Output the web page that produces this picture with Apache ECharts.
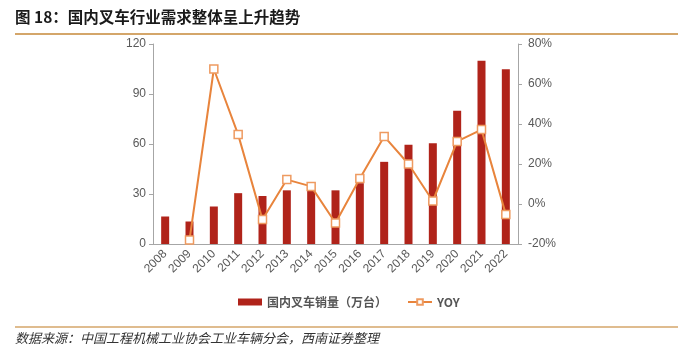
<!DOCTYPE html>
<html><head><meta charset="utf-8">
<script src="https://cdn.jsdelivr.net/npm/echarts@6/dist/echarts.min.js"></script>
<style>html,body{margin:0;padding:0;background:#fff}#c{width:686px;height:359px}</style>
</head><body><div id="c"></div>
<script>
const years = ['2008','2009','2010','2011','2012','2013','2014','2015','2016','2017','2018','2019','2020','2021','2022'];
const sales = [16.5, 13.5, 22.5, 30.5, 28.8, 32.2, 32.5, 32.2, 36.5, 49.3, 59.5, 60.5, 80, 110, 104.8];
const yoy = [null, -18, 67.5, 34.7, -7.8, 12.2, 8.8, -9.5, 12.7, 33.8, 20, 1.5, 31.3, 37.2, -5.2];
const leftTicks = [0, 30, 60, 90, 120];
const rightTicks = [-20, 0, 20, 40, 60, 80];
const titleText = '图 18：国内叉车行业需求整体呈上升趋势';
const sourceText = '数据来源：中国工程机械工业协会工业车辆分会，西南证券整理';
const seriesNames = ['国内叉车销量（万台）', 'YOY'];

const chart = echarts.init(document.getElementById('c'), null, {renderer: 'canvas'});
const axisLabel = {color: '#595959', fontSize: 12, fontFamily: 'Liberation Sans, Arial, sans-serif'};
chart.setOption({
  animation: false,
  title: {text: titleText, left: 10, top: 4, textStyle: {fontSize: 15.5, fontWeight: 'bold', color: '#1a1a1a', fontFamily: 'Noto Sans CJK SC'}},
  graphic: [
    {type: 'line', shape: {x1: 15, y1: 34, x2: 678, y2: 34}, style: {stroke: '#D4A66A', lineWidth: 2}},
    {type: 'line', shape: {x1: 15, y1: 327, x2: 678, y2: 327}, style: {stroke: '#D4A66A', lineWidth: 1.5}},
    {type: 'text', left: 15, top: 332, style: {text: sourceText, fill: '#333', fontSize: 13, fontStyle: 'italic', fontFamily: 'Noto Sans CJK SC'}}
  ],
  legend: {
    top: 291, left: 233, itemGap: 20, itemWidth: 24, itemHeight: 7,
    textStyle: {color: '#555', fontSize: 12, fontWeight: 'bold', fontFamily: 'Noto Sans CJK SC'},
    data: [{name: seriesNames[0], icon: 'rect'}, {name: seriesNames[1]}]
  },
  grid: {left: 153, right: 168, top: 44, bottom: 115},
  xAxis: {
    type: 'category', data: years,
    axisLine: {lineStyle: {color: '#A6A6A6'}},
    axisTick: {show: false},
    axisLabel: Object.assign({rotate: 45, margin: 8, interval: 0}, axisLabel)
  },
  yAxis: [
    {type: 'value', min: leftTicks[0], max: leftTicks[leftTicks.length-1], interval: 30,
     axisLine: {show: true, lineStyle: {color: '#A6A6A6'}}, axisTick: {show: true, length: 4, lineStyle: {color: '#A6A6A6'}},
     splitLine: {show: false}, axisLabel: Object.assign({margin: 7}, axisLabel)},
    {type: 'value', min: rightTicks[0], max: rightTicks[rightTicks.length-1], interval: 20,
     axisLine: {show: true, lineStyle: {color: '#A6A6A6'}}, axisTick: {show: true, length: 4, lineStyle: {color: '#A6A6A6'}},
     splitLine: {show: false}, axisLabel: Object.assign({margin: 10, formatter: '{value}%'}, axisLabel)}
  ],
  series: [
    {name: seriesNames[0], type: 'bar', data: sales, barWidth: 8, itemStyle: {color: '#B0231A'}},
    {name: seriesNames[1], type: 'line', yAxisIndex: 1, data: yoy, symbol: 'rect', symbolSize: 8,
     connectNulls: false,
     lineStyle: {color: '#E8843C', width: 2}, itemStyle: {color: '#fff', borderColor: '#EE9A60', borderWidth: 1.5}}
  ]
});
</script></body></html>
